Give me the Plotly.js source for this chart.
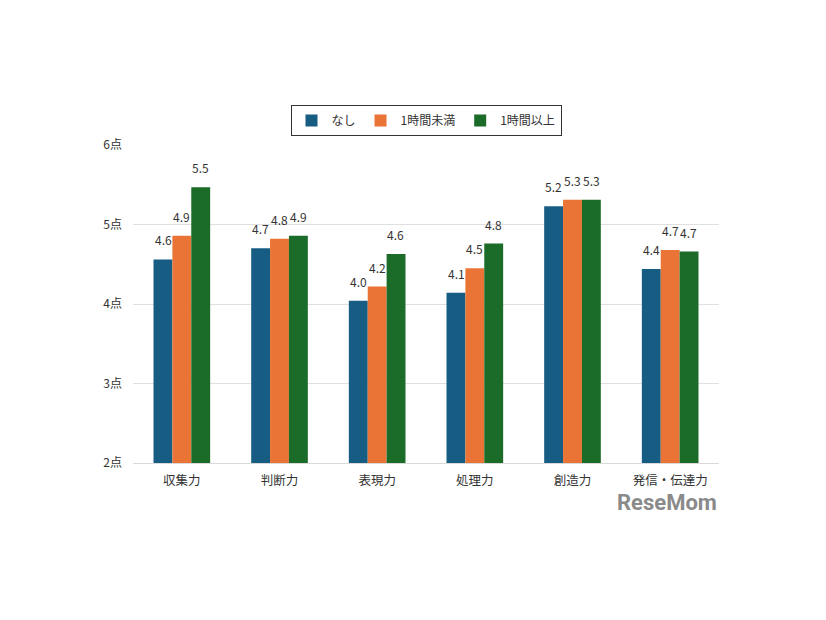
<!DOCTYPE html>
<html><head><meta charset="utf-8">
<script src="https://cdn.plot.ly/plotly-3.0.1.min.js"></script>
<style>body{margin:0;background:#fff}#c{width:826px;height:620px}</style>
</head><body><div id="c"></div>
<script>
const categories = ['収集力','判断力','表現力','処理力','創造力','発信・伝達力'];
const seriesNames = ['なし','1時間未満','1時間以上'];
const valsNone = [4.56, 4.70, 4.04, 4.14, 5.23, 4.44];
const valsUnder1h = [4.86, 4.82, 4.22, 4.45, 5.31, 4.68];
const valsOver1h = [5.47, 4.86, 4.63, 4.76, 5.31, 4.66];
const yTickVals = [2,3,4,5,6];
const yTickText = ['2点','3点','4点','5点','6点'];
const colors = ['#175d83','#ea7435','#1b6b29'];
const F = '"Noto Sans CJK JP", "Noto Sans", sans-serif';

const allVals = [valsNone, valsUnder1h, valsOver1h];
const traces = allVals.map((v,i)=>({
  type:'bar', name: seriesNames[i], x: categories, y: v,
  marker:{color: colors[i]},
  hoverinfo:'skip'
}));

const annotations = [];
allVals.forEach((v,i)=>{
  v.forEach((n,j)=>{
    annotations.push({x: categories[j], y: n, xref:'x', yref:'y', xshift:(i-1)*18.8, yshift:9,
      yanchor:'bottom', xanchor:'center', showarrow:false, text: n.toFixed(1),
      font:{family:F, size:12, color:'#333'}});
  });
});
annotations.push({xref:'paper', yref:'paper', x:1.0, y:-0.08, xanchor:'right', yanchor:'top', text:'<b>ReseMom</b>', showarrow:false, font:{family:'Roboto, sans-serif', size:22, color:'#8a8a8a'}});

const layout = {
  width:826, height:620,
  margin:{l:133, r:107, t:145, b:157},
  paper_bgcolor:'#fff', plot_bgcolor:'#fff',
  barmode:'group', bargap:0.42, bargroupgap:0,
  font:{family:F, size:12, color:'#333'},
  xaxis:{tickfont:{family:F,size:12.5,color:'#333'}, showgrid:false, zeroline:false, showline:true, linecolor:'#d9d9d9', ticks:'', ticklabelstandoff:6},
  yaxis:{range:[2,6], tickvals:yTickVals, ticktext:yTickText, showgrid:true, gridcolor:'#e0e0e0', gridwidth:1, zeroline:false, showline:false, ticks:'', ticklabelstandoff:10, tickfont:{family:F,size:12,color:'#333'}},
  legend:{orientation:'h', x:0.5, xanchor:'center', y:1.126, yanchor:'top', bordercolor:'#333', borderwidth:1, font:{family:F,size:12,color:'#333'}, itemwidth:30, traceorder:'normal'},
  annotations: annotations
};
Plotly.newPlot('c', traces, layout, {displayModeBar:false, staticPlot:true});
</script></body></html>
